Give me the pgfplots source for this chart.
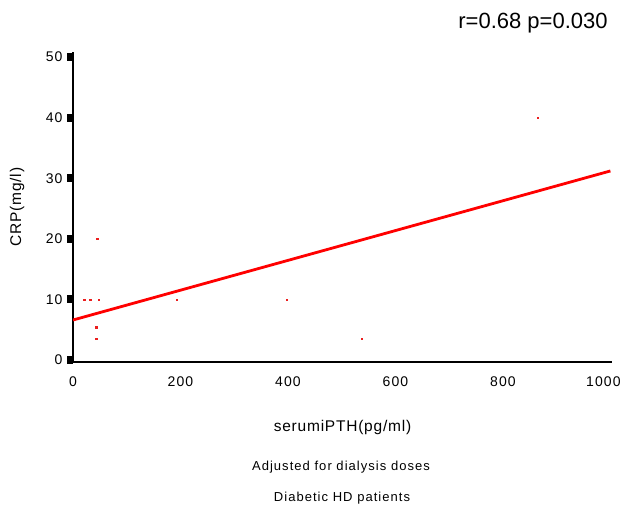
\documentclass[border=0pt]{standalone}
\usepackage{fontspec}
\setmainfont{Liberation Sans}
\newfontfamily\spaced[LetterSpace=8]{Liberation Sans}
\newfontfamily\spacedb[LetterSpace=5]{Liberation Sans}
\usepackage{pgfplots}
\pgfplotsset{compat=1.18}
\definecolor{lred}{RGB}{235,30,30}
\begin{document}
\begin{tikzpicture}[x=1pt,y=1pt]
\path[use as bounding box] (0,0) rectangle (622,507);
\begin{axis}[
  at={(73pt,145pt)}, anchor=south west,
  scale only axis, width=539pt, height=310pt,
  xmin=0, xmax=1003, ymin=-0.33, ymax=50.83,
  axis lines=left,
  axis line style={line width=2.6pt, -, black},
  xtick={0,200,400,600,800},
  extra x ticks={1000},
  extra x tick style={xticklabel style={xshift=-7pt}},
  ytick={0,10,20,30,40,50},
  xtick style={draw=none},
  ytick style={line width=8pt, black},
  tick align=outside,
  major tick length=6pt,
  /pgf/number format/assume math mode=true,
  /pgf/number format/1000 sep={},
  tick label style={font=\fontsize{14}{16}\spaced},
  yticklabel style={xshift=-1pt},
  xticklabel style={yshift=-5pt},
  xlabel={serumiPTH(pg/ml)},
  ylabel={CRP(mg/l)},
  label style={font=\fontsize{15.5}{18}\spacedb},
  xlabel style={at={([yshift=-65pt]axis description cs:0.5,0)}, anchor=center},
  ylabel style={at={([xshift=-56pt]axis description cs:0,0.5)}, anchor=center},
  clip=false,
]
\addplot[only marks, mark=square*, mark size=0.6pt, color=lred] coordinates {
 (21,10) (32,10) (48,10) (45,20) (43,5.4) (43,3.5) (193,10) (398,10) (537,3.5) (865,40)
};
\addplot[color=red, line width=2.8pt] coordinates {(0,6.6) (1000,31.2)};
\end{axis}
\node[font=\fontsize{22}{26}\selectfont] at (533,484) {r=0.68 p=0.030};
\node[font=\fontsize{13}{15}\spaced] at (341,40) {Adjusted for dialysis doses};
\node[font=\fontsize{13}{15}\spaced] at (342,9) {Diabetic HD patients};
\end{tikzpicture}
\end{document}
